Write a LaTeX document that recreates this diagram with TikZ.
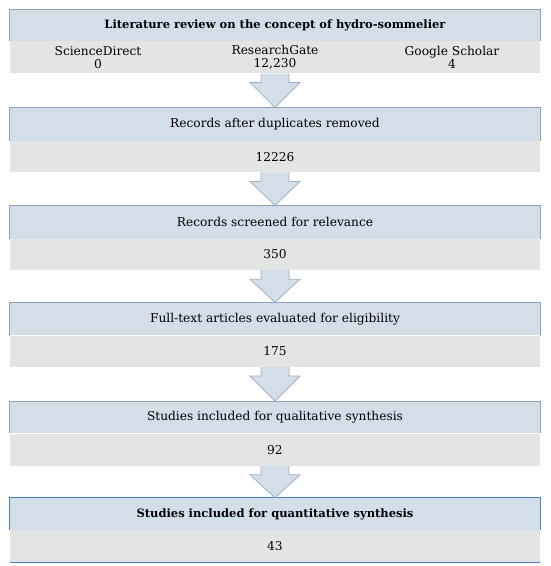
\documentclass[tikz,border=0pt]{standalone}
\usepackage{fontspec}
\setmainfont{DejaVu Serif}
\usetikzlibrary{positioning,calc}

\definecolor{headfill}{HTML}{D4DEE9}
\definecolor{bandfill}{HTML}{E3E5E4}
\definecolor{edgegray}{HTML}{8FA2BA}
\definecolor{edgeblue}{HTML}{4A7EC7}

\newcommand{\flowarrow}[2]{%
  \draw[arrowshape] ($(#1.south)+(-14,0)$) -- ++(0,-9) -- ++(-11,0) -- (#2.north)
    -- ($(#1.south)+(25,-9)$) -- ++(-11,0) -- ($(#1.south)+(14,0)$);}
\newcommand{\headedge}[2]{%
  \draw[#2] (#1.south west) -- (#1.north west) -- (#1.north east) -- (#1.south east);}

\begin{document}
\begin{tikzpicture}[x=1pt, y=1pt, every node/.style={font=\fontsize{12.2}{13.5}\selectfont},
    head/.style={fill=headfill, minimum width=530pt, minimum height=33pt, inner sep=0pt},
    band/.style={fill=bandfill, minimum width=530pt, minimum height=31pt, inner sep=0pt},
    title/.style={font=\fontsize{11.5}{13}\selectfont\bfseries},
    grayedge/.style={draw=edgegray, line width=0.9pt},
    blueedge/.style={draw=edgeblue, line width=1.1pt},
    arrowshape/.style={fill=headfill, draw=edgegray!85, line width=0.8pt, line join=miter}]
	\useasboundingbox (0,0) rectangle (550,-566);
	\node[head, title, minimum height=31pt] (h1) at (275,-25.5) {Literature review on the concept of hydro-sommelier};
	\node[band, minimum height=32pt, below=0pt of h1] (b1) {};
	\node[align=center] (sd) at ($(b1.center)+(-177,0)$) {ScienceDirect\\0};
	\node[align=center] (rg) at (b1.center) {ResearchGate\\12,230};
	\node[align=center] (gs) at ($(b1.center)+(177,0)$) {Google Scholar\\4};
	\node[head, below=34pt of b1] (h2) {Records after duplicates removed};
	\node[band, below=0pt of h2] (b2) {12226};
	\node[head, below=33pt of b2] (h3) {Records screened for relevance};
	\node[band, below=0pt of h3] (b3) {350};
	\node[head, below=32pt of b3] (h4) {Full-text articles evaluated for eligibility};
	\node[band, below=0pt of h4] (b4) {175};
	\node[head, minimum height=32pt, below=34pt of b4] (h5) {Studies included for qualitative synthesis};
	\node[band, minimum height=32pt, below=0pt of h5] (b5) {92};
	\node[head, title, minimum height=32pt, below=32pt of b5] (h6) {Studies included for quantitative synthesis};
	\node[band, minimum height=32pt, below=0pt of h6] (b6) {43};
	% borders
	\foreach \n in {h1,h2,h3,h4,h5} {\headedge{\n}{grayedge}}
	\headedge{h6}{blueedge}
	\draw[blueedge] (b6.south west) -- (b6.south east);
	% arrows
	\flowarrow{b1}{h2}
	\flowarrow{b2}{h3}
	\flowarrow{b3}{h4}
	\flowarrow{b4}{h5}
	\flowarrow{b5}{h6}
\end{tikzpicture}
\end{document}
